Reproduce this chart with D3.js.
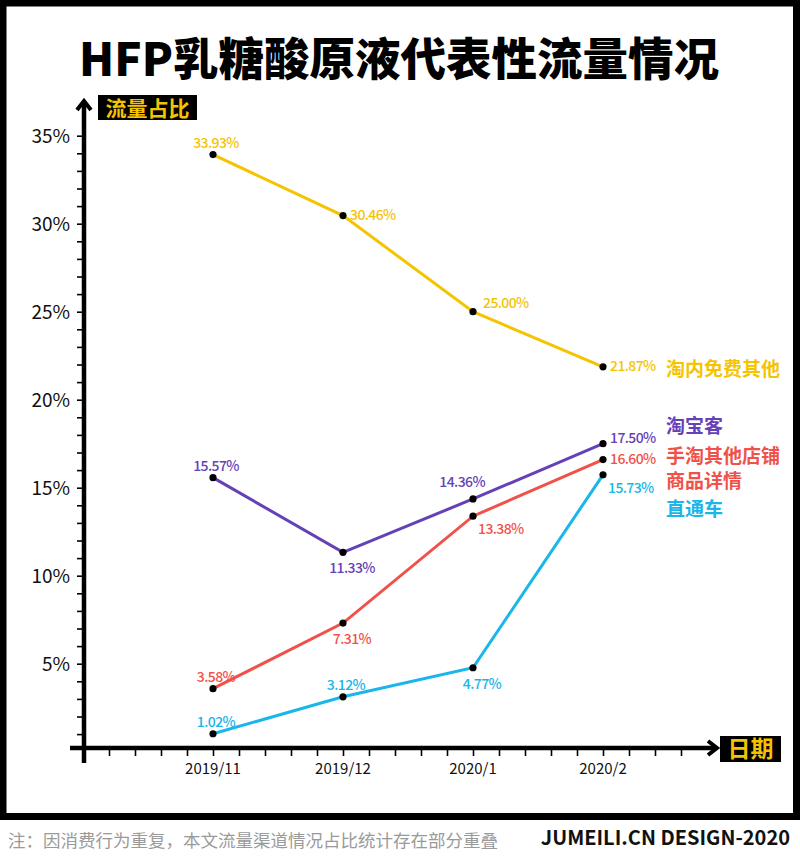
<!DOCTYPE html>
<meta charset="utf-8">
<style>
  body { margin: 0; background: #fff; }
  text { font-family: "Noto Sans CJK SC", "Noto Sans", sans-serif; }
</style>
<body>
<script src="https://d3js.org/d3.v7.min.js"></script>
<script>

  // chart data
  var months = ["2019/11", "2019/12", "2020/1", "2020/2"];
  var seriesNames = ["淘内免费其他", "淘宝客", "手淘其他店铺商品详情", "直通车"];
  var freeOther = [33.93, 30.46, 25.00, 21.87];
  var taobaoke = [15.57, 11.33, 14.36, 17.50];
  var shopDetail = [3.58, 7.31, 13.38, 16.60];
  var ztc = [1.02, 3.12, 4.77, 15.73];
  var yTicks = [5, 10, 15, 20, 25, 30, 35];

  var colors = ["#f5c400", "#6541b7", "#f0524a", "#19b6ea"];

  // where each value label sits relative to its point
  var labelPlace = [
    ["above", "right", "aboveRight", "right"],
    ["above", "below", "aboveLeft", "rightUp"],
    ["above", "below", "belowRight", "right"],
    ["above", "above", "below", "belowRight"]
  ];
  var placeRule = {
    above:      { anchor: "middle", dx: 3,  dy: -7 },
    below:      { anchor: "middle", dx: 9,  dy: 21 },
    aboveLeft:  { anchor: "end",    dx: 12, dy: -12 },
    aboveRight: { anchor: "start",  dx: 10, dy: -4 },
    belowRight: { anchor: "start",  dx: 5,  dy: 18 },
    right:      { anchor: "start",  dx: 7,  dy: 4 },
    rightUp:    { anchor: "start",  dx: 7,  dy: -1 }
  };
  // legend rows at the right (y in px)
  var legendRows = [376, 433, 463, 516];

  var width = 800, height = 858;

  var svg = d3.select("body").append("svg")
    .attr("width", width)
    .attr("height", height);

  svg.append("rect").attr("width", width).attr("height", height).attr("fill", "#fff");

  // frame
  svg.append("rect")
    .attr("x", 3).attr("y", 3)
    .attr("width", 793.5).attr("height", 813.5)
    .attr("fill", "none")
    .attr("stroke", "#000")
    .attr("stroke-width", 7);

  // title
  svg.append("text")
    .attr("x", 399).attr("y", 76)
    .attr("text-anchor", "middle")
    .attr("font-size", "45.5px")
    .attr("font-weight", 900)
    .attr("fill", "#000")
    .text("HFP乳糖酸原液代表性流量情况");

  // scales
  var x = d3.scaleLinear().domain([0, 3]).range([213, 603]);
  var y = d3.scaleLinear().domain([0, 35]).range([751.7, 135.7]);
  var axisX = 84, axisY = 748;

  // y minor/major ticks
  var yAll = d3.range(1, 35);
  svg.append("g")
    .attr("transform", "translate(" + axisX + ",0)")
    .call(d3.axisLeft(y).tickValues(yAll.concat([35])).tickSize(7).tickFormat(""))
    .call(function (g) {
      g.select(".domain").remove();
      g.selectAll(".tick line").attr("stroke", "#000").attr("stroke-width", 1.6);
      g.selectAll(".tick text").remove();
    });

  // y labels
  svg.selectAll(".ylab")
    .data(yTicks)
    .enter().append("text")
    .attr("class", "ylab")
    .attr("x", 70)
    .attr("y", function (d) { return y(d) + 7; })
    .attr("text-anchor", "end")
    .attr("font-family", "'Noto Sans', sans-serif")
    .attr("font-size", "19px")
    .attr("fill", "#111")
    .text(function (d) { return d + "%"; });

  // x minor ticks
  var xAll = d3.range(-0.8, 3.61, 0.2).map(function (d) { return Math.round(d * 10) / 10; });
  svg.append("g")
    .attr("transform", "translate(0," + axisY + ")")
    .call(d3.axisBottom(x).tickValues(xAll).tickSize(8).tickFormat(""))
    .call(function (g) {
      g.select(".domain").remove();
      g.selectAll(".tick line").attr("stroke", "#000").attr("stroke-width", 1.6);
    });

  svg.selectAll(".xlab")
    .data(months)
    .enter().append("text")
    .attr("class", "xlab")
    .attr("x", function (d, i) { return x(i); })
    .attr("y", 774)
    .attr("text-anchor", "middle")
    .attr("font-size", "15px")
    .attr("fill", "#111")
    .text(function (d) { return d; });

  // axis lines with chevron arrows
  svg.append("line")
    .attr("x1", axisX).attr("x2", axisX)
    .attr("y1", 101).attr("y2", 763)
    .attr("stroke", "#000").attr("stroke-width", 4.5);
  svg.append("path")
    .attr("d", "M77,110 L84,101 L91,110")
    .attr("fill", "none").attr("stroke", "#000").attr("stroke-width", 4).attr("stroke-linejoin", "miter");
  svg.append("line")
    .attr("x1", 70).attr("x2", 716)
    .attr("y1", axisY).attr("y2", axisY)
    .attr("stroke", "#000").attr("stroke-width", 4.5);
  svg.append("path")
    .attr("d", "M708,741 L717,748 L708,755")
    .attr("fill", "none").attr("stroke", "#000").attr("stroke-width", 4).attr("stroke-linejoin", "miter");

  // axis title boxes
  svg.append("rect").attr("x", 98).attr("y", 95).attr("width", 99).attr("height", 25).attr("fill", "#000");
  svg.append("text")
    .attr("x", 147.5).attr("y", 115.5)
    .attr("text-anchor", "middle")
    .attr("font-size", "21px").attr("font-weight", 700)
    .attr("fill", "#f5c400")
    .text("流量占比");
  svg.append("rect").attr("x", 720).attr("y", 736).attr("width", 61).attr("height", 26).attr("fill", "#000");
  svg.append("text")
    .attr("x", 750.5).attr("y", 757)
    .attr("text-anchor", "middle")
    .attr("font-size", "23px").attr("font-weight", 700)
    .attr("fill", "#f5c400")
    .text("日期");

  // series
  var allSeries = [freeOther, taobaoke, shopDetail, ztc];

  var line = d3.line()
    .x(function (d, i) { return x(i); })
    .y(function (d) { return y(d); });

  allSeries.forEach(function (vals, s) {
    svg.append("path")
      .datum(vals)
      .attr("d", line)
      .attr("fill", "none")
      .attr("stroke", colors[s])
      .attr("stroke-width", 3);
  });

  allSeries.forEach(function (vals, s) {
    svg.selectAll(".dot" + s)
      .data(vals)
      .enter().append("circle")
      .attr("cx", function (d, i) { return x(i); })
      .attr("cy", function (d) { return y(d); })
      .attr("r", 3.6)
      .attr("fill", "#000");

    svg.selectAll(".lab" + s)
      .data(vals)
      .enter().append("text")
      .attr("x", function (d, i) { return x(i) + placeRule[labelPlace[s][i]].dx; })
      .attr("y", function (d, i) { return y(d) + placeRule[labelPlace[s][i]].dy; })
      .attr("text-anchor", function (d, i) { return placeRule[labelPlace[s][i]].anchor; })
      .attr("font-size", "14px")
      .attr("font-weight", 500)
      .attr("letter-spacing", "-0.6px")
      .attr("fill", colors[s])
      .text(function (d) { return d.toFixed(2) + "%"; });
  });

  // legend at the right
  seriesNames.forEach(function (name, s) {
    var t = svg.append("text")
      .attr("x", 666)
      .attr("y", legendRows[s])
      .attr("font-size", "19px")
      .attr("font-weight", 700)
      .attr("fill", colors[s]);
    var parts = name.length > 6 ? [name.slice(0, 6), name.slice(6)] : [name];
    parts.forEach(function (p, k) {
      t.append("tspan").attr("x", 666).attr("dy", k ? 25 : 0).text(p);
    });
  });

  // footer
  svg.append("text")
    .attr("x", 8).attr("y", 847)
    .attr("font-size", "17.5px")
    .attr("fill", "#9a9a9a")
    .text("注：因消费行为重复，本文流量渠道情况占比统计存在部分重叠");
  svg.append("text")
    .attr("x", 790).attr("y", 845)
    .attr("text-anchor", "end")
    .attr("font-size", "20px")
    .attr("font-weight", 700)
    .attr("fill", "#111")
    .text("JUMEILI.CN DESIGN-2020");

</script>
</body>
